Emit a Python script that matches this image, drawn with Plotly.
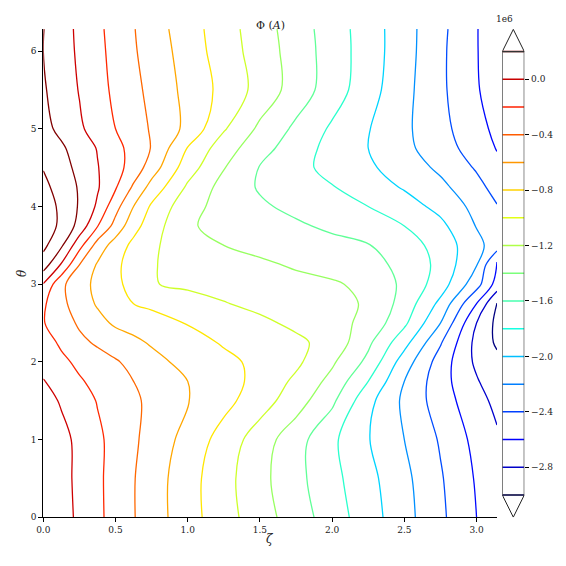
import numpy as np
import plotly.graph_objects as go

# grid, values in units of 1e6
ZETA = [0.0, 0.125, 0.25, 0.375, 0.5, 0.625, 0.75, 1.0, 1.25, 1.5, 1.75,
        2.0, 2.25, 2.5, 2.75, 3.0, 3.1416]
THETA = [0.0, 0.5, 1.0, 1.5, 1.75, 2.0, 2.25, 2.5, 2.75, 3.0, 3.25, 3.5,
         3.75, 4.0, 4.25, 4.5, 4.75, 5.0, 5.5, 6.0, 6.2832]
PHI_1E6 = [
    [-0.01, -0.12, -0.24, -0.36, -0.47, -0.59, -0.70, -0.92, -1.12, -1.31, -1.50, -1.70, -1.91, -2.13, -2.36, -2.60, -2.73],
    [-0.02, -0.13, -0.25, -0.36, -0.48, -0.59, -0.70, -0.92, -1.13, -1.34, -1.54, -1.74, -1.94, -2.15, -2.38, -2.62, -2.75],
    [-0.04, -0.14, -0.25, -0.36, -0.47, -0.57, -0.67, -0.87, -1.08, -1.30, -1.52, -1.76, -1.99, -2.20, -2.42, -2.66, -2.77],
    [-0.12, -0.22, -0.31, -0.41, -0.49, -0.57, -0.64, -0.79, -0.94, -1.11, -1.31, -1.56, -1.94, -2.24, -2.50, -2.73, -2.85],
    [-0.19, -0.28, -0.38, -0.45, -0.53, -0.60, -0.67, -0.80, -0.92, -1.06, -1.24, -1.46, -1.80, -2.20, -2.52, -2.78, -2.93],
    [-0.27, -0.36, -0.44, -0.51, -0.58, -0.66, -0.74, -0.86, -0.95, -1.05, -1.16, -1.37, -1.65, -2.10, -2.49, -2.84, -2.95],
    [-0.32, -0.43, -0.55, -0.63, -0.70, -0.76, -0.82, -0.92, -1.02, -1.09, -1.16, -1.27, -1.56, -1.93, -2.38, -2.86, -3.03],
    [-0.39, -0.50, -0.63, -0.74, -0.83, -0.87, -0.92, -1.01, -1.09, -1.16, -1.24, -1.335, -1.45, -1.76, -2.20, -2.80, -3.05],
    [-0.37, -0.55, -0.70, -0.82, -0.91, -1.00, -1.04, -1.12, -1.19, -1.25, -1.30, -1.36, -1.415, -1.68, -2.05, -2.60, -3.01],
    [-0.21, -0.56, -0.72, -0.85, -0.96, -1.06, -1.19, -1.235, -1.27, -1.31, -1.35, -1.37, -1.46, -1.64, -1.90, -2.32, -2.68],
    [0.10, -0.22, -0.60, -0.82, -0.96, -1.08, -1.19, -1.25, -1.31, -1.37, -1.42, -1.49, -1.55, -1.64, -1.86, -2.19, -2.65],
    [0.25, 0.03, -0.33, -0.68, -0.89, -1.05, -1.17, -1.30, -1.40, -1.45, -1.50, -1.54, -1.59, -1.70, -1.88, -2.14, -2.30],
    [0.28, 0.17, -0.07, -0.39, -0.67, -0.93, -1.10, -1.38, -1.45, -1.51, -1.57, -1.64, -1.72, -1.80, -1.95, -2.21, -2.32],
    [0.30, 0.16, -0.02, -0.23, -0.53, -0.80, -1.03, -1.33, -1.47, -1.57, -1.65, -1.73, -1.80, -1.91, -2.06, -2.26, -2.39],
    [0.25, 0.12, -0.02, -0.18, -0.38, -0.63, -0.87, -1.23, -1.47, -1.62, -1.71, -1.79, -1.90, -2.02, -2.15, -2.34, -2.47],
    [0.19, 0.07, -0.05, -0.19, -0.33, -0.48, -0.70, -1.11, -1.39, -1.61, -1.74, -1.86, -1.97, -2.09, -2.24, -2.42, -2.55],
    [0.14, 0.03, -0.09, -0.21, -0.34, -0.47, -0.61, -1.01, -1.31, -1.52, -1.71, -1.86, -2.00, -2.15, -2.31, -2.49, -2.61],
    [0.06, -0.05, -0.17, -0.28, -0.40, -0.51, -0.62, -0.85, -1.18, -1.44, -1.64, -1.83, -1.99, -2.16, -2.34, -2.53, -2.65],
    [0.02, -0.09, -0.21, -0.33, -0.44, -0.55, -0.65, -0.86, -1.06, -1.27, -1.49, -1.70, -1.92, -2.14, -2.36, -2.58, -2.71],
    [0.00, -0.12, -0.23, -0.35, -0.46, -0.58, -0.68, -0.89, -1.10, -1.29, -1.49, -1.69, -1.90, -2.12, -2.36, -2.59, -2.72],
    [0.005, -0.12, -0.24, -0.36, -0.47, -0.59, -0.70, -0.91, -1.11, -1.31, -1.50, -1.70, -1.90, -2.12, -2.35, -2.59, -2.73],
]
LEVELS = [-3.0, -2.8, -2.6, -2.4, -2.2, -2.0, -1.8, -1.6, -1.4, -1.2, -1.0,
          -0.8, -0.6, -0.4, -0.2, 0.0, 0.2]
CBAR_TICKS = [0.0, -0.4, -0.8, -1.2, -1.6, -2.0, -2.4, -2.8]
X_TICKS = [0.0, 0.5, 1.0, 1.5, 2.0, 2.5, 3.0]
Y_TICKS = [0, 1, 2, 3, 4, 5, 6]

FONT = "DejaVu Serif"
W = H = 566
OFF = 8  # page body margin the figure sits inside


def px(x):
    return (x - OFF) / W


def py(y):
    return 1 - (y - OFF) / H


# matplotlib "jet" segment data
JET_R = ([0, 0.35, 0.66, 0.89, 1], [0, 0, 1, 1, 0.5])
JET_G = ([0, 0.125, 0.375, 0.64, 0.91, 1], [0, 0, 1, 1, 0, 0])
JET_B = ([0, 0.11, 0.34, 0.65, 1], [0.5, 1, 1, 0, 0])


def jet(t):
    r = np.interp(t, *JET_R)
    g = np.interp(t, *JET_G)
    b = np.interp(t, *JET_B)
    return f"rgb({r * 255:.0f},{g * 255:.0f},{b * 255:.0f})"


stops = sorted(set(JET_R[0] + JET_G[0] + JET_B[0]))
jet_scale = [[s, jet(s)] for s in stops]

lo, hi = LEVELS[0], LEVELS[-1]
step = LEVELS[1] - LEVELS[0]

fig = go.Figure()
fig.add_trace(
    go.Contour(
        x=ZETA,
        y=THETA,
        z=PHI_1E6,
        colorscale=jet_scale,
        zauto=False,
        zmin=lo,
        zmax=hi,
        contours=dict(start=lo, end=hi, size=step, coloring="lines"),
        line=dict(width=1.3, smoothing=1),
        showscale=False,
        hoverinfo="skip",
    )
)

# hand-built colorbar with extend triangles
for lv in LEVELS:
    t = (lv - lo) / (hi - lo)
    fig.add_trace(
        go.Scatter(
            x=[0, 1], y=[lv, lv], xaxis="x2", yaxis="y2", mode="lines",
            line=dict(color=jet(t), width=1.5), showlegend=False, hoverinfo="skip",
        )
    )

cb_top = hi + 0.16
cb_bot = lo - 0.16
fig.add_shape(type="rect", xref="x2", yref="y2", x0=0, x1=1, y0=lo, y1=hi,
              line=dict(color="#333333", width=1.2))
fig.add_shape(type="path", xref="x2", yref="y2",
              path=f"M 0 {hi} L 0.5 {cb_top} L 1 {hi}", line=dict(color="#222222", width=1))
fig.add_shape(type="path", xref="x2", yref="y2",
              path=f"M 0 {lo} L 0.5 {cb_bot} L 1 {lo}", line=dict(color="#222222", width=1))

y_dom = [py(517.3), py(29.1)]
axis_font = dict(family=FONT, size=9, color="#222222")

fig.update_layout(
    width=W,
    height=H,
    margin=dict(l=0, r=0, t=0, b=0, autoexpand=False),
    paper_bgcolor="white",
    plot_bgcolor="white",
    showlegend=False,
    font=axis_font,
    xaxis=dict(
        domain=[px(43.3), px(497)], range=[0, np.pi], automargin=False,
        tickvals=X_TICKS, ticktext=[f"{v:.1f}" for v in X_TICKS],
        ticks="outside", ticklen=4, tickwidth=1, tickcolor="black",
        showline=True, linecolor="black", linewidth=1,
        showgrid=False, zeroline=False, tickfont=axis_font,
    ),
    yaxis=dict(
        domain=y_dom, range=[0, 2 * np.pi], anchor="x", automargin=False,
        tickvals=Y_TICKS, ticktext=[str(v) for v in Y_TICKS],
        ticks="outside", ticklen=4, tickwidth=1, tickcolor="black",
        showline=True, linecolor="black", linewidth=1,
        showgrid=False, zeroline=False, tickfont=axis_font,
    ),
    xaxis2=dict(
        domain=[px(502.3), px(524.3)], range=[0, 1], anchor="y2",
        visible=False, automargin=False,
    ),
    yaxis2=dict(
        domain=y_dom, anchor="x2", side="right", automargin=False,
        range=[lo - 0.161, hi + 0.162],
        tickvals=CBAR_TICKS,
        ticktext=[f"{v:.1f}".replace("-", "\u2212") for v in CBAR_TICKS],
        ticks="outside", ticklen=4, tickwidth=1, tickcolor="black",
        showline=False, showgrid=False, zeroline=False, tickfont=axis_font,
    ),
    annotations=[
        dict(text="\u03a6 (<i>A</i>)", x=px(270), y=py(17), xref="paper", yref="paper",
             showarrow=False, font=dict(family=FONT, size=11, color="#222222")),
        dict(text="<i>\u03b6</i>", x=px(270), y=py(548), xref="paper", yref="paper",
             showarrow=False, font=dict(family=FONT, size=12, color="#222222")),
        dict(text="<i>\u03b8</i>", x=px(13), y=py(273), xref="paper", yref="paper",
             showarrow=False, textangle=-90, font=dict(family=FONT, size=12, color="#222222")),
        dict(text="1e6", x=px(515), y=py(20), xref="paper", yref="paper",
             yanchor="bottom", yshift=-6, showarrow=False, font=axis_font),
    ],
)

fig.write_html("out.html")
